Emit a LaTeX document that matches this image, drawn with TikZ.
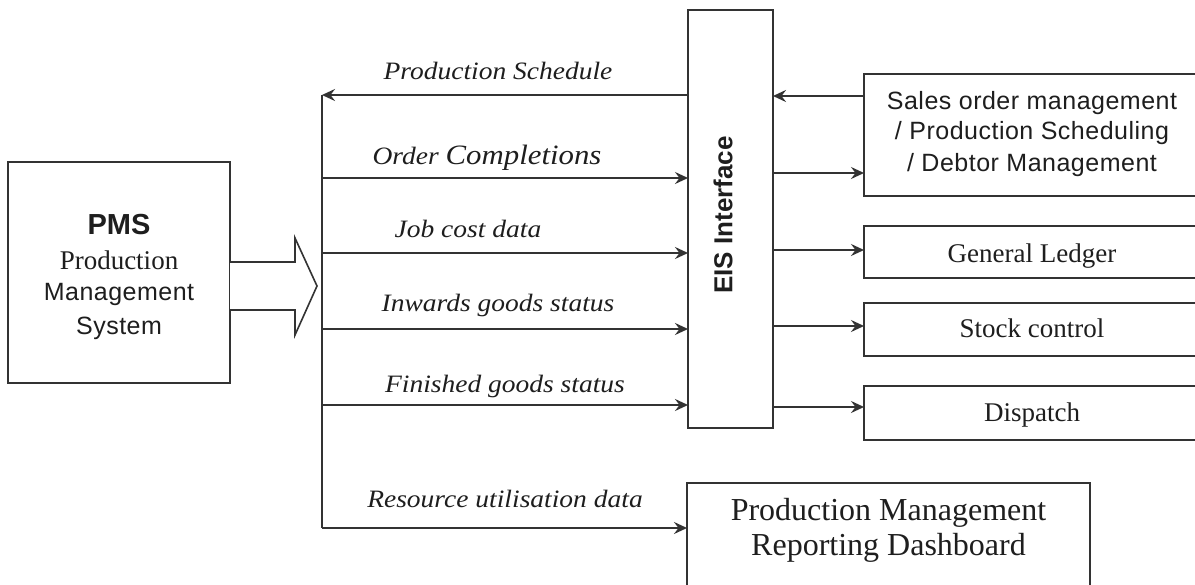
\documentclass[tikz,border=0pt]{standalone}
\usepackage{fontspec}
\setmainfont{Liberation Serif}
\setsansfont{Liberation Sans}
\newfontfamily\lblfont[FakeStretch=1.1]{Liberation Serif}
\newfontfamily\sansw[LetterSpace=2]{Liberation Sans}
\usetikzlibrary{arrows.meta}
\definecolor{ink}{HTML}{333333}
\definecolor{txt}{HTML}{1E1E1E}
\tikzset{
  box/.style={draw=ink, line width=2.2pt, fill=white, rectangle, inner sep=0pt, outer sep=0pt},
  conn/.style={draw=ink, line width=2.2pt, -{Stealth[length=13pt,width=12pt,inset=4.5pt]}},
  bus/.style={draw=ink, line width=2.2pt},
  lbl/.style={anchor=base, inner sep=0pt, text=txt, font=\fontsize{25}{30}\selectfont\lblfont\itshape},
  serif/.style={anchor=base, inner sep=0pt, text=txt, font=\fontsize{27}{32}\selectfont\rmfamily},
  sans/.style={anchor=base, inner sep=0pt, text=txt, font=\fontsize{25}{30}\selectfont\sansw},
}
\begin{document}
\begin{tikzpicture}[x=1pt,y=-1pt]
\useasboundingbox (0,0) rectangle (1195,585);
\fill[white] (0,0) rectangle (1195,585);
\begin{scope}
\clip (0,0) rectangle (1195,585);

% boxes
\node[box, minimum width=222pt, minimum height=221pt] (pms) at (119,272.5) {};
\node[box, minimum width=85pt, minimum height=418pt] (eis) at (730.5,219) {};
\node[box, minimum width=336pt, minimum height=122pt] (sales) at (1032,135) {};
\node[box, minimum width=336pt, minimum height=52pt] (gl) at (1032,252) {};
\node[box, minimum width=336pt, minimum height=53pt] (stock) at (1032,329.5) {};
\node[box, minimum width=336pt, minimum height=54pt] (disp) at (1032,413) {};
\node[box, minimum width=403pt, minimum height=124pt] (dash) at (888.5,545) {};

% big hollow arrow
\draw[ink, line width=1.6pt, fill=white] (pms.east |- 0,262) -- (295,262) -- (295,238) -- (317,286) -- (295,335) -- (295,310) -- (pms.east |- 0,310);

% box texts
\node[anchor=base, inner sep=0pt, text=txt, font=\fontsize{29}{34}\selectfont\sffamily\bfseries] (pmsA) at (119,235) {PMS};
\node[serif] (pmsB) at (119,270) {Production};
\node[sans] (pmsC) at (119,301) {Management};
\node[sans] (pmsD) at (119,335) {System};

\node[inner sep=0pt, text=txt, rotate=90, font=\fontsize{26}{30}\selectfont\sffamily\bfseries] (eisT) at (723,215) {EIS Interface};

\node[sans] (s1) at (1032,110) {Sales order management};
\node[sans] (s2) at (1032,140) {/ Production Scheduling};
\node[sans] (s3) at (1032,172) {/ Debtor Management};

\node[serif] (glT) at (1032,263) {General Ledger};
\node[serif] (stT) at (1032,338) {Stock control};
\node[serif] (dpT) at (1032,422) {Dispatch};

\node[anchor=base, inner sep=0pt, text=txt, font=\fontsize{32}{36}\selectfont\rmfamily] (d1) at (888.5,520) {Production Management};
\node[anchor=base, inner sep=0pt, text=txt, font=\fontsize{32}{36}\selectfont\rmfamily] (d2) at (888.5,555) {Reporting Dashboard};

% bus coordinates
\coordinate (b0) at (322,95);
\coordinate (b1) at (322,178);
\coordinate (b2) at (322,253);
\coordinate (b3) at (322,329);
\coordinate (b4) at (322,405);
\coordinate (b5) at (322,528);

\draw[bus] (b0) -- (b5);
\draw[conn] (eis.west |- b0) -- (b0);
\draw[conn] (b1) -- (eis.west |- b1);
\draw[conn] (b2) -- (eis.west |- b2);
\draw[conn] (b3) -- (eis.west |- b3);
\draw[conn] (b4) -- (eis.west |- b4);
\draw[conn] (b5) -- (dash.west |- b5);

% right side connectors
\coordinate (r0) at (0,96);
\coordinate (r1) at (0,173);
\coordinate (r2) at (0,250);
\coordinate (r3) at (0,326);
\coordinate (r4) at (0,407);
\draw[conn] (sales.west |- r0) -- (eis.east |- r0);
\draw[conn] (eis.east |- r1) -- (sales.west |- r1);
\draw[conn] (eis.east |- r2) -- (gl.west |- r2);
\draw[conn] (eis.east |- r3) -- (stock.west |- r3);
\draw[conn] (eis.east |- r4) -- (disp.west |- r4);

% connector labels
\node[lbl] (l0) at (498,80) {Production Schedule};
\node[lbl] (l1) at (487,165) {{\fontsize{25}{28}\selectfont Order} {\fontsize{28}{32}\selectfont Completions}};
\node[lbl] (l2) at (468,238) {Job cost data};
\node[lbl] (l3) at (498,312) {Inwards goods status};
\node[lbl] (l4) at (505,393) {Finished goods status};
\node[lbl] (l5) at (505,507) {Resource utilisation data};
\end{scope}
\end{tikzpicture}
\end{document}
